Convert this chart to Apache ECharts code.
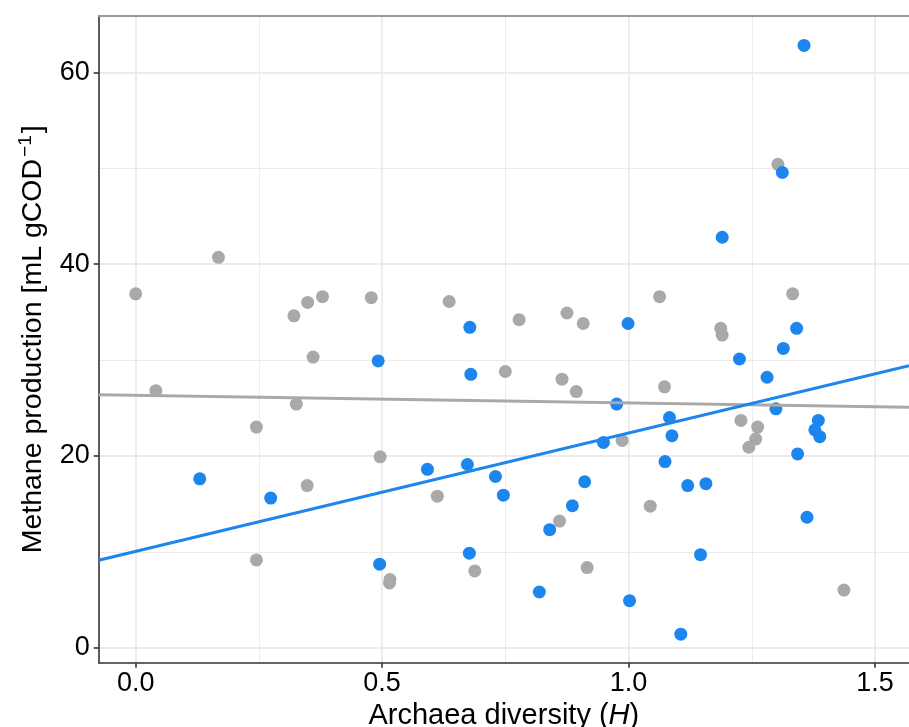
<!DOCTYPE html>
<html>
<head>
<meta charset="utf-8">
<script src="https://cdn.jsdelivr.net/npm/echarts@6/dist/echarts.min.js"></script>
<style>
  html, body { margin: 0; padding: 0; background: #ffffff; }
  #chart { width: 909px; height: 727px; }
</style>
</head>
<body>
<div id="chart"></div>
<script>
// Archaea diversity (Shannon H) vs. methane production, two groups
const greyX = [0.000, 0.041, 0.168, 0.245, 0.245, 0.321, 0.326, 0.348, 0.349, 0.360,
               0.379, 0.478, 0.496, 0.515, 0.516, 0.612, 0.636, 0.688, 0.750, 0.778,
               0.860, 0.865, 0.875, 0.894, 0.908, 0.916, 0.987, 1.044, 1.063, 1.073,
               1.187, 1.190, 1.228, 1.244, 1.258, 1.262, 1.303, 1.333, 1.437];
const greyY = [36.9, 26.8, 40.7, 23.0, 9.15, 34.6, 25.4, 16.9, 36.0, 30.3,
               36.6, 36.5, 19.9, 6.75, 7.1, 15.8, 36.1, 8.0, 28.8, 34.2,
               13.2, 28.0, 34.9, 26.7, 33.8, 8.35, 21.6, 14.75, 36.6, 27.2,
               33.3, 32.6, 23.7, 20.9, 21.75, 23.0, 50.4, 36.9, 6.0];

const blueX = [0.130, 0.274, 0.492, 0.495, 0.592, 0.673, 0.677, 0.678, 0.680, 0.730,
               0.746, 0.819, 0.840, 0.886, 0.911, 0.949, 0.976, 0.999, 1.002, 1.074,
               1.083, 1.088, 1.106, 1.120, 1.146, 1.157, 1.190, 1.225, 1.281, 1.299,
               1.312, 1.314, 1.341, 1.343, 1.356, 1.362, 1.378, 1.385, 1.388];
const blueY = [17.6, 15.6, 29.9, 8.7, 18.6, 19.1, 9.85, 33.4, 28.5, 17.85,
               15.9, 5.8, 12.3, 14.8, 17.3, 21.4, 25.4, 33.8, 4.9, 19.4,
               24.0, 22.1, 1.4, 16.9, 9.7, 17.1, 42.8, 30.1, 28.2, 24.9,
               49.55, 31.2, 33.3, 20.2, 62.8, 13.6, 22.7, 23.7, 22.0];

// Axis ticks
const xMajor = [0.0, 0.5, 1.0, 1.5];
const xMinor = [0.25, 0.75, 1.25];
const yMajor = [0, 20, 40, 60];
const yMinor = [10, 30, 50];

const X_MIN = -0.075, X_MAX = 1.569;
const Y_MIN = -1.57, Y_MAX = 65.87;

const FONT = '"Liberation Sans", Arial, Helvetica, sans-serif';
const GREY = '#A9A9A9';
const BLUE = '#1C86EE';

// Ordinary least squares fit, evaluated across the full x range
function lmLine(xs, ys) {
  const n = xs.length;
  const mx = xs.reduce((s, v) => s + v, 0) / n;
  const my = ys.reduce((s, v) => s + v, 0) / n;
  let sxy = 0, sxx = 0;
  for (let i = 0; i < n; i++) {
    sxy += (xs[i] - mx) * (ys[i] - my);
    sxx += (xs[i] - mx) * (xs[i] - mx);
  }
  const b = sxy / sxx, a = my - b * mx;
  return [[X_MIN, a + b * X_MIN], [X_MAX, a + b * X_MAX]];
}

const zip = (xs, ys) => xs.map((x, i) => [x, ys[i]]);

const gridStyle = (w) => ({ color: '#EBEBEB', width: w, type: 'solid' });

const option = {
  animation: false,
  backgroundColor: '#ffffff',
  grid: {
    left: 98.7, top: 16, right: 0, bottom: 64.3,
    show: false, containLabel: false, outerBoundsMode: 'none'
  },
  xAxis: [
    {
      type: 'value', min: X_MIN, max: X_MAX,
      axisLine: { show: true, onZero: false, lineStyle: { color: '#333333', width: 1.6 } },
      axisTick: { show: true, customValues: xMajor, length: 5, lineStyle: { color: '#333333', width: 1.6 } },
      axisLabel: { customValues: xMajor, formatter: v => v.toFixed(1), fontSize: 27, color: '#000', margin: 7, fontFamily: FONT },
      splitLine: { show: false },
      name: 'Archaea diversity ({i|H})',
      nameLocation: 'middle', nameGap: 34,
      nameTextStyle: {
        fontSize: 29, color: '#000', fontFamily: FONT,
        rich: { i: { fontSize: 29, fontStyle: 'italic', color: '#000', fontFamily: FONT } }
      }
    },
    {
      // panel top border
      type: 'value', position: 'top', min: X_MIN, max: X_MAX,
      axisLine: { show: true, onZero: false, lineStyle: { color: '#9A9A9A', width: 1.8 } },
      axisTick: { show: false }, axisLabel: { show: false }, splitLine: { show: false }
    }
  ],
  yAxis: {
    type: 'value', min: Y_MIN, max: Y_MAX,
    axisLine: { show: true, onZero: false, lineStyle: { color: '#333333', width: 1.6 } },
    axisTick: { show: true, customValues: yMajor, length: 5, lineStyle: { color: '#333333', width: 1.6 } },
    axisLabel: { customValues: yMajor, fontSize: 27, color: '#000', margin: 9, fontFamily: FONT },
    splitLine: { show: false },
    name: 'Methane production [mL gCOD{sup|−1}]',
    nameLocation: 'middle', nameGap: 49,
    nameTextStyle: {
      fontSize: 28.5, color: '#000', fontFamily: FONT,
      rich: { sup: { fontSize: 19, color: '#000', fontFamily: FONT, verticalAlign: 'top', padding: [0, 2, 14, 2] } }
    }
  },
  series: [
    {
      // panel grid lines
      type: 'scatter', data: [], silent: true, z: 0,
      markLine: {
        silent: true, z: 0, animation: false,
        symbol: ['none', 'none'], label: { show: false },
        data: [
          ...xMinor.map(v => ({ xAxis: v, lineStyle: gridStyle(1) })),
          ...yMinor.map(v => ({ yAxis: v, lineStyle: gridStyle(1) })),
          ...xMajor.map(v => ({ xAxis: v, lineStyle: gridStyle(1.8) })),
          ...yMajor.map(v => ({ yAxis: v, lineStyle: gridStyle(1.8) }))
        ]
      }
    },
    {
      type: 'scatter', data: zip(greyX, greyY), symbolSize: 13, z: 2,
      itemStyle: { color: GREY, opacity: 1 }
    },
    {
      type: 'scatter', data: zip(blueX, blueY), symbolSize: 13, z: 3,
      itemStyle: { color: BLUE, opacity: 1 }
    },
    {
      type: 'line', data: lmLine(greyX, greyY), showSymbol: false, z: 4,
      lineStyle: { color: GREY, width: 3 }
    },
    {
      type: 'line', data: lmLine(blueX, blueY), showSymbol: false, z: 5,
      lineStyle: { color: BLUE, width: 3 }
    }
  ]
};

const chart = echarts.init(document.getElementById('chart'), null, { renderer: 'canvas' });
chart.setOption(option);
</script>
</body>
</html>
